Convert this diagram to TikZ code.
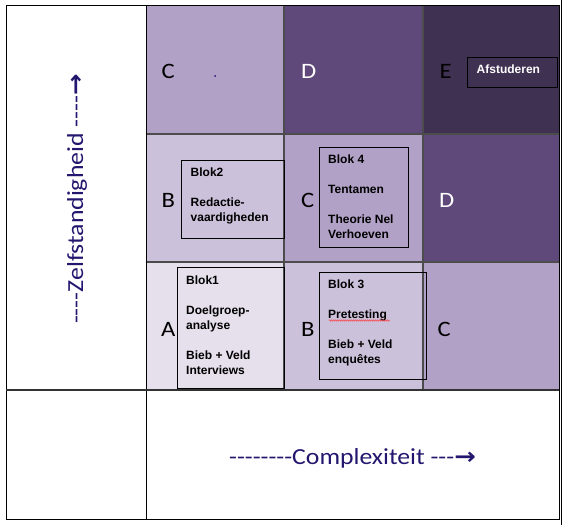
\documentclass[tikz,border=0pt]{standalone}
\usepackage{graphicx}
\usepackage{fontspec}
\setmainfont{Carlito}
\newfontfamily\calibri{Carlito}
\newfontfamily\arialfont{Liberation Sans}
\newfontfamily\symbfont{DejaVu Sans}
\usetikzlibrary{positioning,decorations.pathmorphing}

\definecolor{purpleA}{HTML}{E5E0EC}
\definecolor{purpleB}{HTML}{CCC1DA}
\definecolor{purpleC}{HTML}{B2A1C7}
\definecolor{purpleD}{HTML}{5F497A}
\definecolor{purpleE}{HTML}{3F3151}
\definecolor{axisblue}{RGB}{34,22,110}

\newcommand{\wide}[1]{\scalebox{1.12}[1]{#1}}

\begin{document}
\begin{tikzpicture}[x=1bp,y=-1bp,
    cellletter/.style={font=\calibri\fontsize{22bp}{26bp}\selectfont, inner sep=0pt, anchor=base west},
    blokframe/.style={draw=black, line width=0.8bp, inner sep=0pt, anchor=north west},
    bloktext/.style={font=\arialfont\bfseries\fontsize{12bp}{15bp}\selectfont, align=left, inner sep=0pt},
    axislabel/.style={text=axisblue, font=\calibri\fontsize{23bp}{27bp}\selectfont, inner sep=0pt, anchor=base},
    gridline/.style={draw=black!70, line width=1.5bp}]
    \useasboundingbox (0,0) rectangle (570,525);

    % cells, bottom row to top row
    \fill[purpleA] (146,262) rectangle (284,390);
    \fill[purpleB] (284,262) rectangle (423,390);
    \fill[purpleC] (423,262) rectangle (560,390);
    \fill[purpleB] (146,134) rectangle (284,262);
    \fill[purpleC] (284,134) rectangle (423,262);
    \fill[purpleD] (423,134) rectangle (560,262);
    \fill[purpleC] (146,5) rectangle (284,134);
    \fill[purpleD] (284,5) rectangle (423,134);
    \fill[purpleE] (423,5) rectangle (560,134);

    \draw[gridline] (146,134) -- (559,134);
    \draw[gridline] (146,262) -- (559,262);
    \draw[gridline] (284,5) -- (284,390);
    \draw[gridline] (423,5) -- (423,390);

    \draw[black, line width=0.8bp] (6,5) rectangle (559,519);
    \draw[black, line width=0.8bp] (146,5) -- (146,519);
    \draw[black!80, line width=1.2bp] (6,390) -- (559,390);
    \draw[black, line width=0.8bp] (561.5,0) -- (561.5,525);

    % letters
    \node[cellletter] (c13) at (161.5,79) {\wide{C}};
    \node[cellletter, text=white] (d23) at (301,79) {\wide{D}};
    \node[cellletter] (e33) at (439.5,79) {\wide{E}};
    \node[cellletter] (b12) at (161.5,208) {\wide{B}};
    \node[cellletter] (c22) at (301,208) {\wide{C}};
    \node[cellletter, text=white] (d32) at (439,208) {\wide{D}};
    \node[cellletter] (a11) at (161,336) {\wide{A}};
    \node[cellletter] (b21) at (301,336) {\wide{B}};
    \node[cellletter] (c31) at (437.5,336) {\wide{C}};
    \fill[axisblue] (215,76) circle (1bp);

    % blokken
    \node[blokframe, minimum width=103bp, minimum height=78bp] (blok2) at (181,160) {};
    \node[bloktext, below right=7.4bp and 9.5bp of blok2.north west] (blok2txt)
        {Blok2\\[15bp]Redactie-\\vaardigheden};

    \node[blokframe, minimum width=89bp, minimum height=100bp] (blok4) at (319,147) {};
    \node[bloktext, below right=7.4bp and 9bp of blok4.north west] (blok4txt)
        {Blok 4\\[15bp]Tentamen\\[15bp]Theorie Nel\\Verhoeven};

    \node[blokframe, minimum width=107bp, minimum height=121bp] (blok1) at (177,267) {};
    \node[bloktext, below right=8.4bp and 9bp of blok1.north west] (blok1txt)
        {Blok1\\[15bp]Doelgroep-\\analyse\\[15bp]Bieb + Veld\\Interviews};

    \node[blokframe, minimum width=107bp, minimum height=107bp] (blok3) at (319,272) {};
    \node[bloktext, below right=7.4bp and 9bp of blok3.north west] (blok3txt)
        {Blok 3\\[15bp]Pretesting\\[15bp]Bieb + Veld\\enquêtes};
    \draw[red!80, line width=0.4bp, decorate, decoration={snake, amplitude=0.7bp, segment length=2bp}]
        (329,320.5) -- (390,320.5);

    \node[blokframe, minimum width=90bp, minimum height=30bp] (afst) at (467,57) {};
    \node[bloktext, text=white, below right=7.4bp and 9.5bp of afst.north west] (afsttxt)
        {Afstuderen};

    % assen
    \node[axislabel] (complex) at (352.5,464)
        {\wide{--------Complexiteit ---{\symbfont\bfseries →}}};
    \node[axislabel, rotate=90] (zelfst) at (83,199)
        {\wide{----Zelfstandigheid ----{\symbfont\bfseries →}}};
\end{tikzpicture}
\end{document}
